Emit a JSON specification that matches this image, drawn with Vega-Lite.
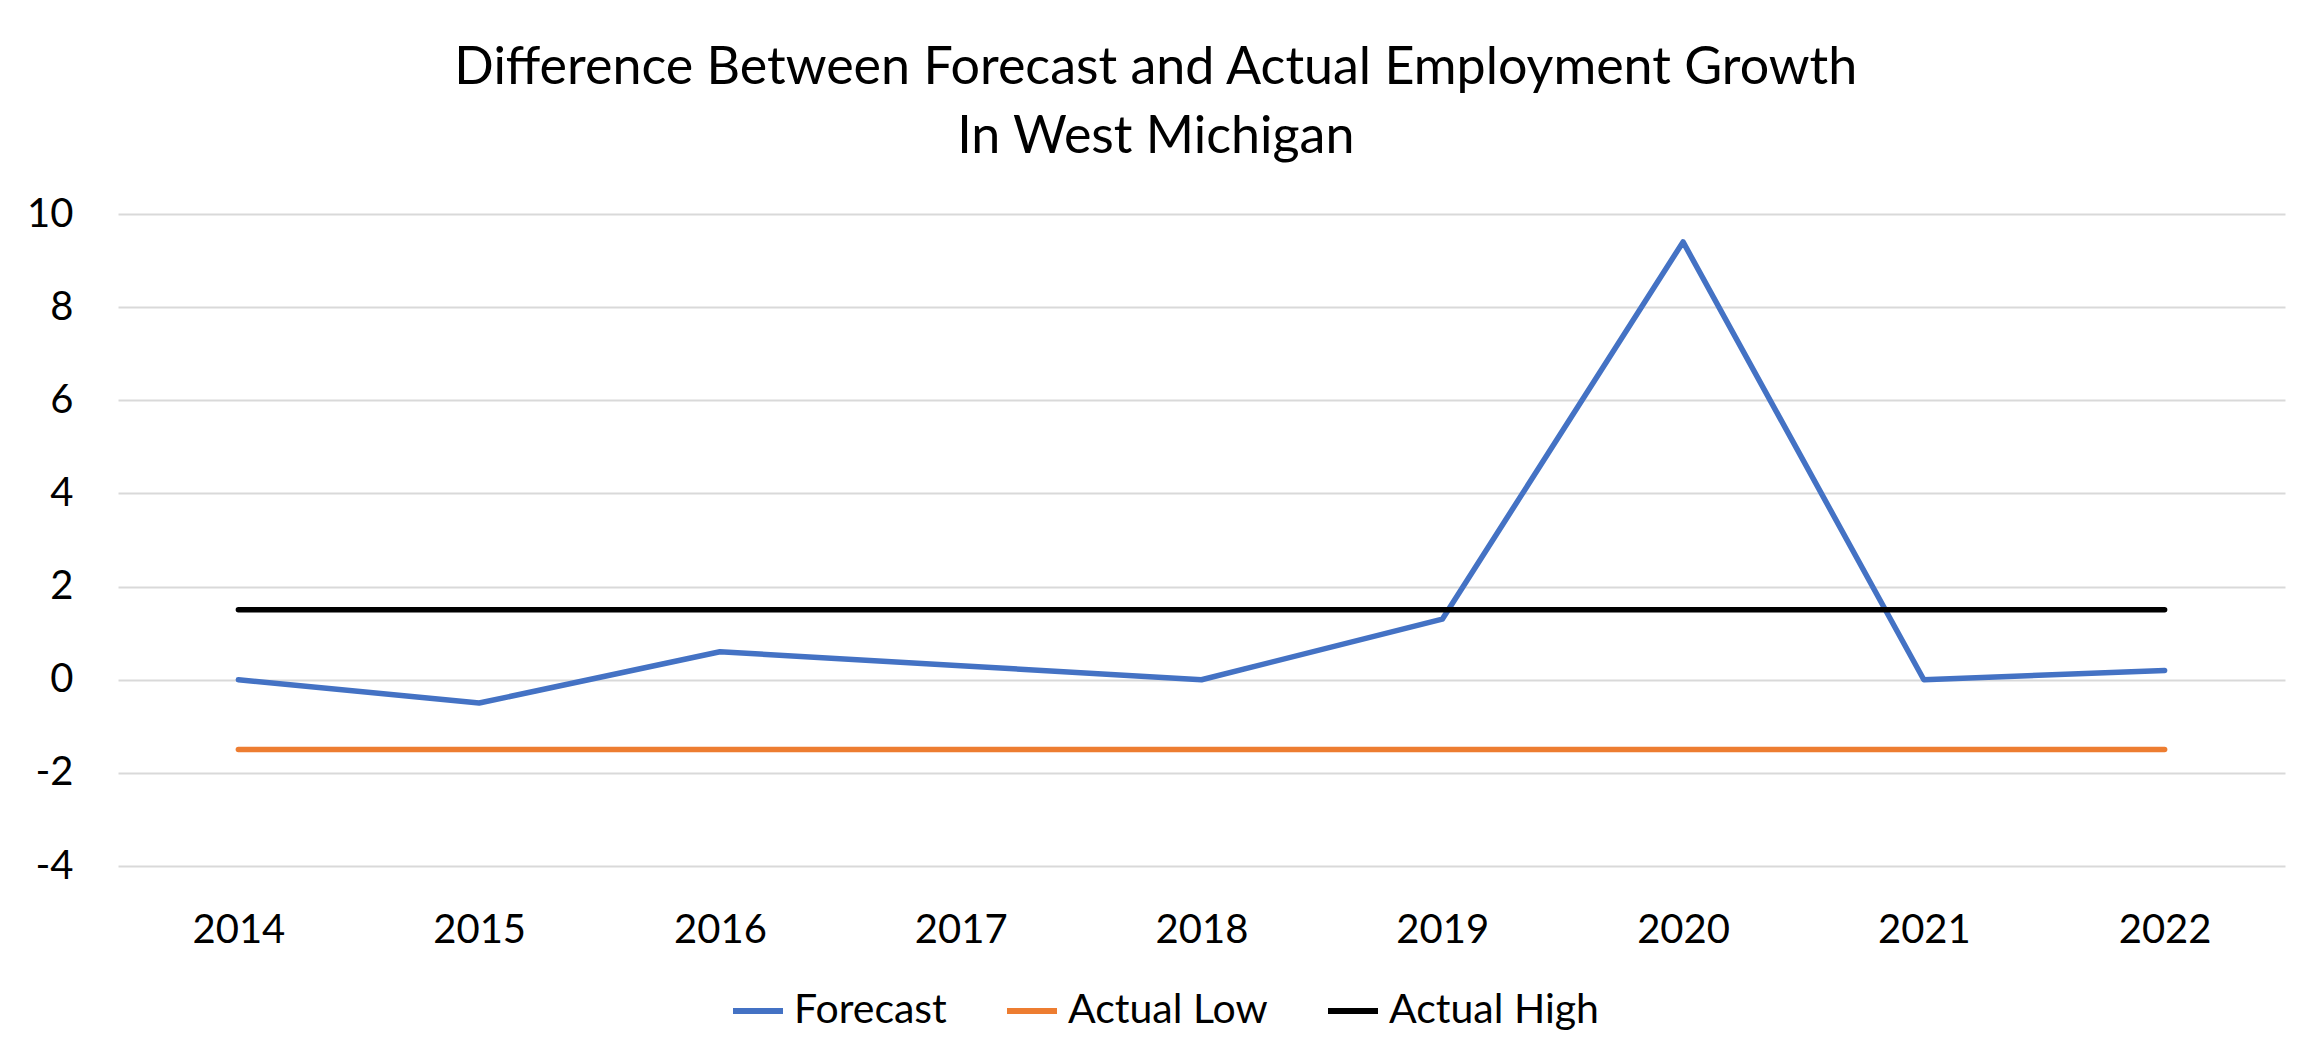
{
  "$schema": "https://vega.github.io/schema/vega-lite/v6.json",
  "width": 2167,
  "height": 652,
  "autosize": "none",
  "padding": {"left": 118, "top": 214, "right": 38, "bottom": 191},
  "background": "white",
  "config": {"view": {"stroke": null}},
  "title": {
    "text": ["Difference Between Forecast and Actual Employment Growth", "In West Michigan"],
    "font": "Lato",
    "fontSize": 52,
    "fontWeight": "normal",
    "color": "#000000",
    "lineHeight": 69,
    "anchor": "middle",
    "frame": "bounds",
    "offset": 30
  },
  "data": {
    "values": [
      {"Year": "2014", "Series": "Forecast", "Value": 0},
      {"Year": "2015", "Series": "Forecast", "Value": -0.5},
      {"Year": "2016", "Series": "Forecast", "Value": 0.6},
      {"Year": "2017", "Series": "Forecast", "Value": 0.3},
      {"Year": "2018", "Series": "Forecast", "Value": 0},
      {"Year": "2019", "Series": "Forecast", "Value": 1.3},
      {"Year": "2020", "Series": "Forecast", "Value": 9.4},
      {"Year": "2021", "Series": "Forecast", "Value": 0},
      {"Year": "2022", "Series": "Forecast", "Value": 0.2},
      {"Year": "2014", "Series": "Actual Low", "Value": -1.5},
      {"Year": "2015", "Series": "Actual Low", "Value": -1.5},
      {"Year": "2016", "Series": "Actual Low", "Value": -1.5},
      {"Year": "2017", "Series": "Actual Low", "Value": -1.5},
      {"Year": "2018", "Series": "Actual Low", "Value": -1.5},
      {"Year": "2019", "Series": "Actual Low", "Value": -1.5},
      {"Year": "2020", "Series": "Actual Low", "Value": -1.5},
      {"Year": "2021", "Series": "Actual Low", "Value": -1.5},
      {"Year": "2022", "Series": "Actual Low", "Value": -1.5},
      {"Year": "2014", "Series": "Actual High", "Value": 1.5},
      {"Year": "2015", "Series": "Actual High", "Value": 1.5},
      {"Year": "2016", "Series": "Actual High", "Value": 1.5},
      {"Year": "2017", "Series": "Actual High", "Value": 1.5},
      {"Year": "2018", "Series": "Actual High", "Value": 1.5},
      {"Year": "2019", "Series": "Actual High", "Value": 1.5},
      {"Year": "2020", "Series": "Actual High", "Value": 1.5},
      {"Year": "2021", "Series": "Actual High", "Value": 1.5},
      {"Year": "2022", "Series": "Actual High", "Value": 1.5}
    ]
  },
  "mark": {"type": "line", "strokeWidth": 5.5, "strokeCap": "round", "strokeJoin": "round"},
  "encoding": {
    "x": {
      "field": "Year",
      "type": "ordinal",
      "scale": {"type": "point", "padding": 0.5},
      "axis": {
        "title": null,
        "labelAngle": 0,
        "domain": false,
        "ticks": false,
        "tickSize": 0,
        "grid": false,
        "labelPadding": 44,
        "labelFont": "Lato",
        "labelFontSize": 40,
        "labelColor": "#000000"
      }
    },
    "y": {
      "field": "Value",
      "type": "quantitative",
      "scale": {"domain": [-4, 10], "nice": false, "zero": false},
      "axis": {
        "title": null,
        "values": [-4, -2, 0, 2, 4, 6, 8, 10],
        "labelExpr": "'' + datum.value",
        "domain": false,
        "ticks": false,
        "tickSize": 0,
        "labelPadding": 45,
        "labelFont": "Lato",
        "labelFontSize": 40,
        "labelColor": "#000000",
        "grid": true,
        "gridColor": "#d9d9d9",
        "gridWidth": 2
      }
    },
    "color": {
      "field": "Series",
      "type": "nominal",
      "sort": ["Forecast", "Actual Low", "Actual High"],
      "scale": {"domain": ["Forecast", "Actual Low", "Actual High"], "range": ["#4472C4", "#ED7D31", "#000000"]},
      "legend": {
        "title": null,
        "orient": "none",
        "direction": "horizontal",
        "legendX": 612,
        "legendY": 769,
        "padding": 0,
        "symbolType": "stroke",
        "symbolSize": 2500,
        "symbolStrokeWidth": 6,
        "labelFont": "Lato",
        "labelFontSize": 41,
        "labelLimit": 0,
        "labelColor": "#000000",
        "labelOffset": 8,
        "columnPadding": 48
      }
    }
  }
}
